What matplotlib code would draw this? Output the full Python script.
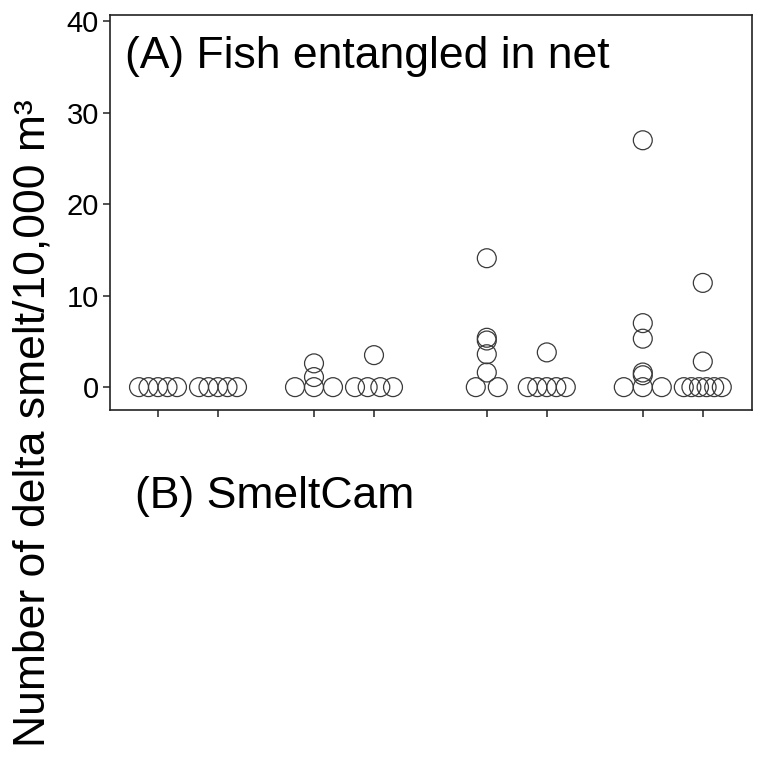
import numpy as np
import matplotlib.pyplot as plt

plt.rcParams['font.family'] = ['Liberation Sans', 'DejaVu Sans']

# group positions along x (no labels shown on the axis)
group_pos = [0.8, 1.8, 3.4, 4.4, 6.28, 7.28, 8.88, 9.88]

# density values, one list per group
grp1 = [0, 0, 0, 0, 0]
grp2 = [0, 0, 0, 0, 0]
grp3 = [0, 0, 0, 1.1, 2.6]
grp4 = [0, 0, 0, 0, 3.5]
grp5 = [0, 0, 1.6, 3.6, 5.1, 5.4, 14.1]
grp6 = [0, 0, 0, 0, 0, 3.8]
grp7 = [0, 0, 0, 1.3, 1.6, 5.3, 7.0, 27.0]
grp8 = [0, 0, 0, 0, 0, 0, 2.8, 11.4]
groups = [grp1, grp2, grp3, grp4, grp5, grp6, grp7, grp8]

yticks = [0, 10, 20, 30, 40]


def spread(pos, vals):
    # tied zeros are spread sideways, the rest sit on the group centre
    vals = np.array(vals, dtype=float)
    xs = np.full(len(vals), pos)
    zero = np.where(vals == 0)[0]
    n = len(zero)
    if n > 1:
        step = min(22.0, 38.0 / (n - 1)) / 60.0
        xs[zero] = pos + (np.arange(n) - (n - 1) / 2) * step
    return xs, vals


fig = plt.figure(figsize=(7.6, 7.6), dpi=100)
ax = fig.add_axes([110 / 760, 1 - 410 / 760, 642 / 760, 395 / 760])

for pos, vals in zip(group_pos, groups):
    xs, ys = spread(pos, vals)
    ax.scatter(xs, ys, s=185, facecolors='none', edgecolors='#3a3a3a',
               linewidths=0.9, zorder=3)

ax.set_xlim(0, 10.7)
ax.set_ylim(-2.5, 40.7)
ax.set_yticks(yticks)
ax.set_xticks(group_pos)
ax.set_xticklabels([])
ax.tick_params(axis='both', direction='out', length=5, width=1.1,
               color='#222222', labelsize=21)
ax.tick_params(axis='y', pad=3)
for sp in ax.spines.values():
    sp.set_linewidth(1.2)
    sp.set_color('#222222')

ax.text(15 / 642, (410 - 68) / 395, '(A) Fish entangled in net',
        transform=ax.transAxes, fontsize=32, va='baseline', ha='left')

fig.text(135 / 760, 1 - 508 / 760, '(B) SmeltCam', fontsize=32,
         va='baseline', ha='left')

fig.text(0.043, 0.443, 'Number of delta smelt/10,000 m³', fontsize=32,
         rotation=90, va='center', ha='center')

fig.savefig('out.png', dpi=100)
